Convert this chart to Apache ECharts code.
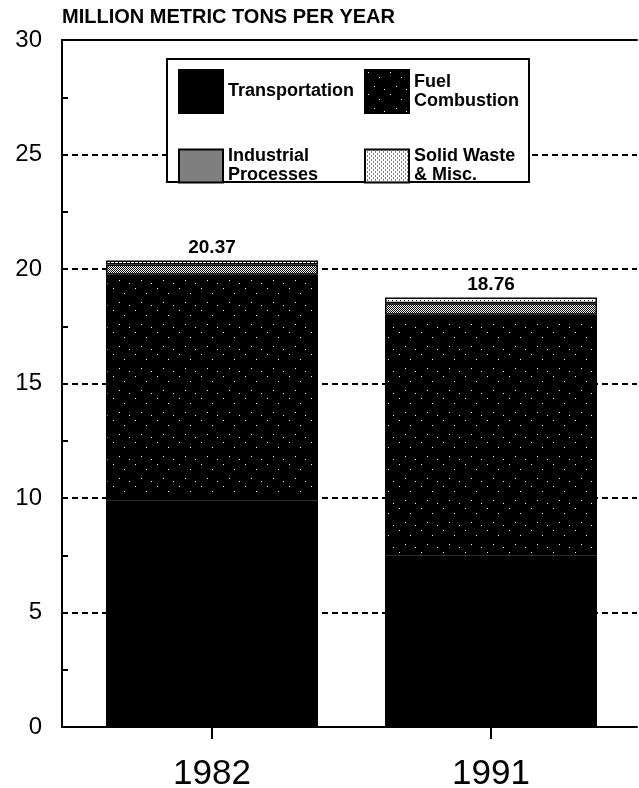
<!DOCTYPE html>
<html>
<head>
<meta charset="utf-8">
<script src="https://cdn.jsdelivr.net/npm/echarts@6/dist/echarts.min.js"></script>
<style>
html,body{margin:0;padding:0;background:#fff;}
#chart{width:639px;height:788px;}
</style>
</head>
<body>
<div id="chart"></div>
<script>
// ---- data ----
const categories = ['1982', '1991'];
const seriesNames = ['Transportation', 'Fuel Combustion', 'Industrial Processes', 'Solid Waste & Misc.'];
const transportation = [9.9, 7.5];
const fuelCombustion = [9.85, 10.5];
const industrialProcesses = [0.45, 0.5];
const solidWasteMisc = [0.17, 0.26];
const totals = [20.37, 18.76];
const legendLabels = {
  'Transportation': 'Transportation',
  'Fuel Combustion': 'Fuel\nCombustion',
  'Industrial Processes': 'Industrial\nProcesses',
  'Solid Waste & Misc.': 'Solid Waste\n& Misc.'
};

// ---- patterns ----
function pattern(w, h, bg, fg, pts) {
  const c = document.createElement('canvas');
  c.width = w; c.height = h;
  const g = c.getContext('2d');
  g.fillStyle = bg; g.fillRect(0, 0, w, h);
  g.fillStyle = fg;
  pts.forEach(p => g.fillRect(p[0], p[1], 1, 1));
  return { image: c, repeat: 'repeat' };
}
const fills = [
  '#000',
  pattern(22, 22, '#000', '#fff', [[3, 2], [14, 7], [9, 16], [19, 19]]),
  pattern(2, 2, '#fff', '#000', [[0, 0], [1, 1]]),
  pattern(4, 4, '#fff', '#000', [[0, 0], [2, 2]])
];
const values = [transportation, fuelCombustion, industrialProcesses, solidWasteMisc];

const font = '"Liberation Sans", Arial, Helvetica, sans-serif';

const series = seriesNames.map((name, si) => ({
  name: name,
  type: 'bar',
  stack: 'total',
  xAxisIndex: 1,
  yAxisIndex: 1,
  barWidth: 212,
  data: values[si],
  itemStyle: { color: fills[si], borderColor: '#000', borderWidth: 1.5 },
  label: si === seriesNames.length - 1 ? {
    show: true, position: 'top', distance: 3,
    formatter: p => totals[p.dataIndex].toFixed(2),
    color: '#000', fontFamily: font, fontWeight: 'bold', fontSize: 19
  } : { show: false },
  emphasis: { disabled: true },
  animation: false
}));

const legendPos = [
  { left: 178, top: 69, h: 43 },
  { left: 364, top: 69, h: 43 },
  { left: 178, top: 147, h: 33 },
  { left: 364, top: 147, h: 33 }
];
const legends = seriesNames.map((name, i) => ({
  data: [name],
  left: legendPos[i].left,
  top: legendPos[i].top,
  padding: 0,
  z: 5,
  itemWidth: 44,
  itemHeight: legendPos[i].h,
  icon: 'rect',
  selectedMode: false,
  itemStyle: { borderColor: '#000', borderWidth: 2 },
  formatter: n => legendLabels[n],
  textStyle: { fontFamily: font, fontSize: 18, fontWeight: 'bold', color: '#000', lineHeight: 19 }
}));

const chart = echarts.init(document.getElementById('chart'), null, { renderer: 'canvas' });
chart.setOption({
  animation: false,
  backgroundColor: '#fff',
  grid: [
    { left: 62, right: 2, top: 40, bottom: 61, outerBoundsMode: 'none', containLabel: false },
    { left: 72.5, right: 8.5, top: 40, bottom: 61, outerBoundsMode: 'none', containLabel: false }
  ],
  title: {
    text: 'MILLION METRIC TONS PER YEAR',
    left: 62, top: 7, padding: 0,
    textStyle: { fontFamily: font, fontSize: 20, fontWeight: 'bold', color: '#000' }
  },
  legend: legends,
  graphic: [{
    type: 'rect', left: 166, top: 58, z: 3,
    shape: { width: 362, height: 123 },
    style: { fill: '#fff', stroke: '#000', lineWidth: 2 }
  }],
  xAxis: [{
    gridIndex: 0, type: 'value', min: 0, max: 1, position: 'bottom',
    axisLine: { show: true, lineStyle: { color: '#000', width: 2 } },
    axisTick: { show: false }, axisLabel: { show: false }, splitLine: { show: false }
  }, {
    gridIndex: 1, type: 'category', data: categories, position: 'bottom',
    axisLine: { show: false },
    axisTick: { show: true, alignWithLabel: true, length: 12, lineStyle: { color: '#000', width: 2 } },
    axisLabel: { margin: 30, fontFamily: font, fontSize: 35, color: '#000' },
    splitLine: { show: false }
  }, {
    gridIndex: 0, type: 'value', min: 0, max: 1, position: 'top',
    axisLine: { show: true, lineStyle: { color: '#000', width: 2 } },
    axisTick: { show: false }, axisLabel: { show: false }, splitLine: { show: false }
  }],
  yAxis: [{
    gridIndex: 0, type: 'value', min: 0, max: 30, interval: 5,
    axisLine: { show: true, lineStyle: { color: '#000', width: 2 } },
    axisTick: { show: true, inside: true, length: 6, lineStyle: { color: '#000', width: 2 } },
    minorTick: { show: true, splitNumber: 2, length: 6, lineStyle: { color: '#000', width: 2 } },
    axisLabel: { margin: 20, fontFamily: font, fontSize: 24, color: '#000' },
    splitLine: { show: true, lineStyle: { color: '#000', width: 2, type: [6, 4] } }
  }, {
    gridIndex: 1, type: 'value', min: 0, max: 30, interval: 5, show: false
  }],
  series: series
});
</script>
</body>
</html>
